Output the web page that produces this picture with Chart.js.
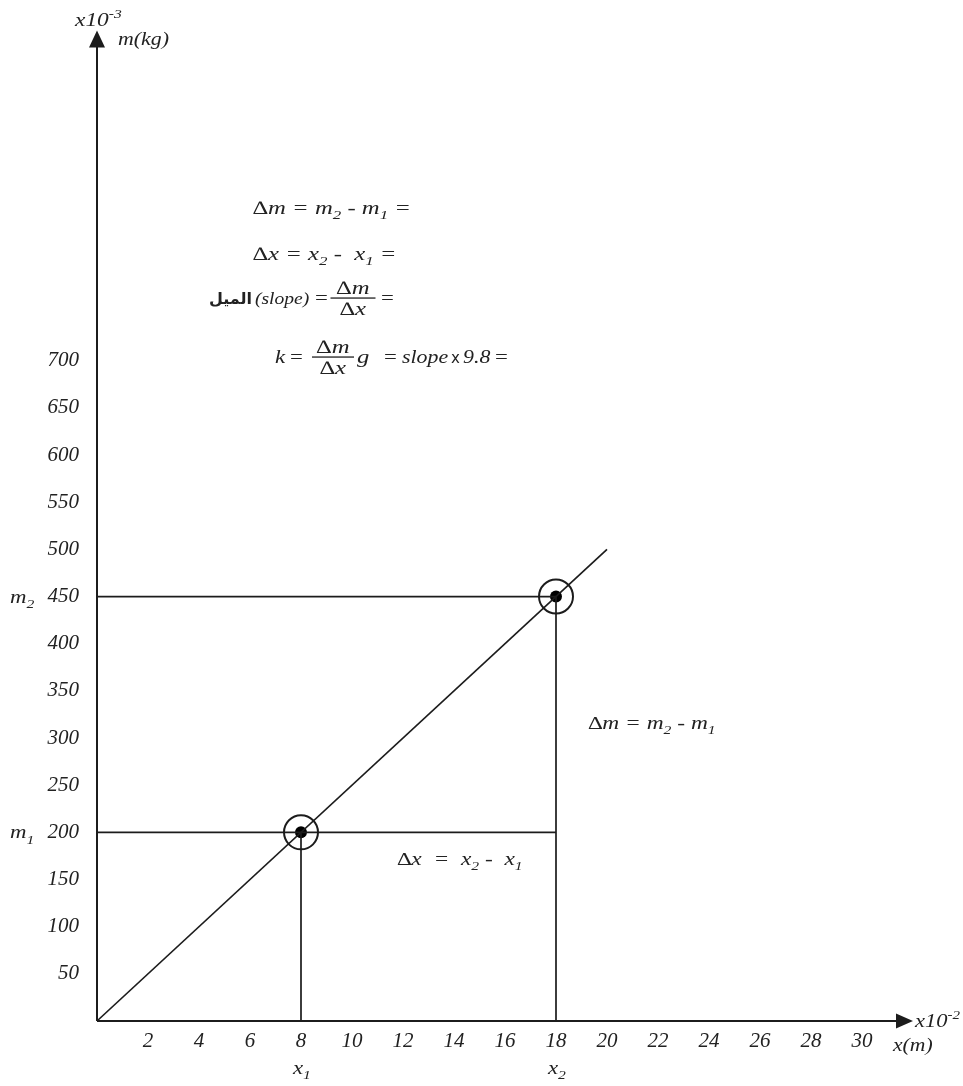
<!DOCTYPE html>
<html>
<head>
<meta charset="utf-8">
<script src="https://cdn.jsdelivr.net/npm/chart.js"></script>
<style>
html, body { margin: 0; padding: 0; background: #fff; }
</style>
</head>
<body>
<canvas id="chart" width="963" height="1086"></canvas>
<script>
// axis ticks (x in 1e-2 m, m in 1e-3 kg)
var xTicks = [2, 4, 6, 8, 10, 12, 14, 16, 18, 20, 22, 24, 26, 28, 30]
var yTicks = [50, 100, 150, 200, 250, 300, 350, 400, 450, 500, 550, 600, 650, 700]

// best fit line through the origin
var fitX = [0, 20]
var fitM = [0, 500]

// the two points
var pointX = [8, 18]
var pointM = [200, 450]

var ink = '#1c1c1c'
var serif = '"Liberation Serif", "Times New Roman", Times, serif'

function pts(xs, ys) {
    return xs.map(function (v, i) { return { x: v, y: ys[i] } })
}

function lineSet(data, width) {
    return {
        data: data,
        showLine: true,
        borderColor: ink,
        borderWidth: width,
        pointRadius: 0,
        clip: false
    }
}

// draws a run of text, '_' marks a subscript, '^' a superscript, '|' an upright part
// sx widens the glyphs horizontally
function rich(c, x, y, parts, size, sx) {
    sx = sx || 1
    c.save()
    c.translate(x, y)
    c.scale(sx, 1)
    var cx = 0
    parts.forEach(function (p) {
        var s = size, dy = 0, t = p, style = 'italic '
        if (p[0] === '_') { t = p.slice(1); s = Math.round(size * 0.68); dy = size * 0.28 }
        else if (p[0] === '^') { t = p.slice(1); s = Math.round(size * 0.68); dy = -size * 0.45 }
        else if (p[0] === '|') { t = p.slice(1); style = '' }
        c.font = style + s + 'px ' + serif
        c.fillText(t, cx, dy)
        cx += c.measureText(t).width
    })
    c.restore()
    return x + cx * sx
}

function measure(c, t, size, sx) {
    c.font = 'italic ' + size + 'px ' + serif
    return c.measureText(t).width * sx
}

function fraction(c, cx, barY, top, bottom, size, sx, barW) {
    rich(c, cx - measure(c, top, size, sx) / 2, barY - 4, [top], size, sx)
    rich(c, cx - measure(c, bottom, size, sx) / 2, barY + size * 0.88, [bottom], size, sx)
    c.fillRect(cx - barW / 2, barY - 0.6, barW, 1.3)
}

var extras = {
    id: 'extras',
    afterDraw: function (chart) {
        var c = chart.ctx
        var xs = chart.scales.x, ys = chart.scales.y
        var ox = xs.getPixelForValue(0), oy = ys.getPixelForValue(0)
        var ax = xs.right, ay = ys.top
        c.save()
        c.strokeStyle = ink
        c.fillStyle = ink
        c.lineWidth = 2

        // axes with arrow heads
        c.beginPath()
        c.moveTo(ox, oy); c.lineTo(ax - 10, oy)
        c.moveTo(ox, oy); c.lineTo(ox, ay + 10)
        c.stroke()
        c.beginPath()
        c.moveTo(ax, oy); c.lineTo(ax - 17, oy - 7.5); c.lineTo(ax - 17, oy + 7.5); c.closePath()
        c.moveTo(ox, ay); c.lineTo(ox - 8, ay + 17); c.lineTo(ox + 8, ay + 17); c.closePath()
        c.fill()

        c.textBaseline = 'alphabetic'
        c.fillStyle = '#222'

        // axis titles
        rich(c, ox - 22, ay - 5, ['x10', '^-3'], 18, 1.3)
        rich(c, ox + 21, ay + 14, ['m(kg)'], 19, 1.15)
        rich(c, ax + 2, oy + 6, ['x10', '^-2'], 18, 1.25)
        rich(c, ax - 20, oy + 30, ['x(m)'], 18, 1.2)

        // names of the read-off points
        var sub = 19
        rich(c, 10, ys.getPixelForValue(pointM[1]) + 6, ['m', '_2'], sub, 1.2)
        rich(c, 10, ys.getPixelForValue(pointM[0]) + 6, ['m', '_1'], sub, 1.2)
        rich(c, xs.getPixelForValue(pointX[0]) - 8, oy + 53, ['x', '_1'], sub, 1.2)
        rich(c, xs.getPixelForValue(pointX[1]) - 8, oy + 53, ['x', '_2'], sub, 1.2)

        // differences beside the triangle
        rich(c, 588, 729, ['\u2206m = m', '_2', ' - m', '_1'], 18, 1.3)
        rich(c, 397, 865, ['\u2206x  =  x', '_2', ' -  x', '_1'], 18, 1.3)

        // worksheet formulas
        var fs = 19, fx = 1.3
        rich(c, 253, 214, ['\u2206m = m', '_2', ' - m', '_1', ' ='], fs, fx)
        rich(c, 253, 260, ['\u2206x = x', '_2', ' -  x', '_1', ' ='], fs, fx)

        c.font = 'bold 16px "DejaVu Sans", sans-serif'
        c.textAlign = 'right'
        c.fillText('\u0627\u0644\u0645\u064a\u0644', 252, 304)
        c.textAlign = 'left'
        rich(c, 255, 304, ['(slope)'], 17, 1.15)
        rich(c, 315, 304, ['|='], fs, 1.2)
        fraction(c, 353, 298, '\u2206m', '\u2206x', fs, fx, 45)
        rich(c, 381, 304, ['|='], fs, 1.2)

        rich(c, 275, 363, ['k'], fs, 1.2)
        rich(c, 290, 363, ['|='], fs, 1.2)
        fraction(c, 333, 357, '\u2206m', '\u2206x', fs, fx, 42)
        rich(c, 357, 363, ['g'], fs, 1.3)
        rich(c, 384, 363, ['|='], fs, 1.2)
        rich(c, 402, 363, ['slope'], fs, 1.15)
        c.font = '15px "DejaVu Sans", sans-serif'
        c.fillText('x', 451, 363)
        rich(c, 463, 363, ['9.8'], fs, 1.15)
        rich(c, 495, 363, ['|='], fs, 1.2)
        c.restore()
    }
}

var tickFont = { family: serif, size: 21, style: 'italic' }

function draw() {
    new Chart(document.getElementById('chart'), {
        type: 'scatter',
        data: {
            datasets: [
                lineSet(pts(fitX, fitM), 1.7),
                lineSet(pts([0, pointX[1]], [pointM[1], pointM[1]]), 1.7),
                lineSet(pts([pointX[1], pointX[1]], [pointM[1], 0]), 1.7),
                lineSet(pts([0, pointX[1]], [pointM[0], pointM[0]]), 1.7),
                lineSet(pts([pointX[0], pointX[0]], [pointM[0], 0]), 1.7),
                {
                    data: pts(pointX, pointM),
                    pointRadius: 6,
                    pointBackgroundColor: '#000',
                    pointBorderWidth: 0,
                    clip: false
                },
                {
                    data: pts(pointX, pointM),
                    pointRadius: 17,
                    pointBackgroundColor: 'rgba(0,0,0,0)',
                    pointBorderColor: ink,
                    pointBorderWidth: 2,
                    clip: false
                }
            ]
        },
        options: {
            responsive: false,
            animation: false,
            layout: { padding: { top: 28, right: 50, left: 0, bottom: 0 } },
            plugins: { legend: { display: false }, tooltip: { enabled: false } },
            scales: {
                x: {
                    type: 'linear',
                    min: 0,
                    max: 32,
                    grid: { display: false, drawTicks: false },
                    border: { display: false },
                    afterBuildTicks: function (s) { s.ticks = xTicks.map(function (v) { return { value: v } }) },
                    afterFit: function (s) { s.height = 65 },
                    ticks: { font: tickFont, color: '#222', padding: 8, maxRotation: 0, autoSkip: false }
                },
                y: {
                    type: 'linear',
                    min: 0,
                    max: 1050,
                    grid: { display: false, drawTicks: false },
                    border: { display: false },
                    afterBuildTicks: function (s) { s.ticks = yTicks.map(function (v) { return { value: v } }) },
                    afterFit: function (s) { s.width = 97 },
                    ticks: { font: tickFont, color: '#222', padding: 18, autoSkip: false }
                }
            }
        },
        plugins: [extras]
    })
}

// make sure the serif face is ready before the canvas text is drawn
Promise.all([
    document.fonts.load('italic 20px "Liberation Serif"'),
    document.fonts.load('20px "Liberation Serif"'),
    document.fonts.load('bold 16px "DejaVu Sans"')
]).then(draw, draw)
</script>
</body>
</html>
